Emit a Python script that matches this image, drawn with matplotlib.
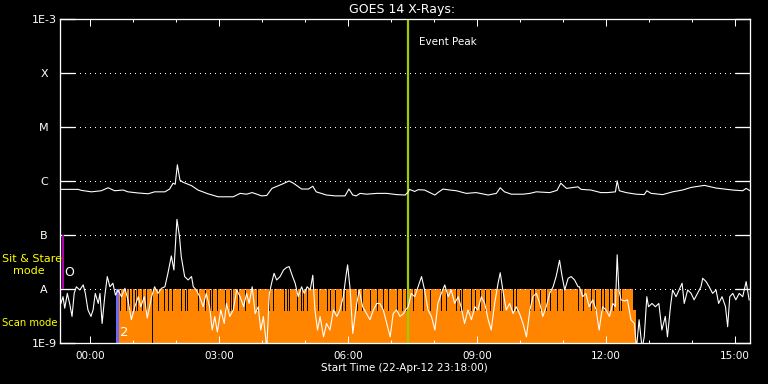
import matplotlib
matplotlib.use("Agg")
import matplotlib.pyplot as plt
from matplotlib.ticker import FixedLocator, NullLocator

# hours after 00:00 on 23-Apr-12, flux in W/m^2
long_hours = [-0.68, -0.28, -0.20, 0.03, 0.26, 0.42, 0.57, 0.77, 0.88, 1.12, 1.35, 1.50,
              1.74, 1.85, 1.93, 1.98, 2.03, 2.09, 2.16, 2.36, 2.51, 2.74, 2.98, 3.33,
              3.49, 3.64, 3.77, 3.99, 4.11, 4.23, 4.46, 4.63, 4.73, 4.92, 5.08, 5.18,
              5.26, 5.50, 5.70, 5.93, 6.02, 6.11, 6.19, 6.28, 6.43, 6.67, 6.90, 7.13,
              7.33, 7.40, 7.43, 7.55, 7.63, 7.78, 8.02, 8.09, 8.21, 8.37, 8.52, 8.75,
              8.98, 9.26, 9.45, 9.54, 9.64, 9.80, 10.07, 10.23, 10.38, 10.69, 10.86, 10.95,
              11.08, 11.35, 11.42, 11.65, 11.88, 12.04, 12.22, 12.26, 12.31, 12.47, 12.70, 12.89,
              12.95, 13.05, 13.32, 13.55, 13.78, 13.98, 14.29, 14.56, 14.95, 15.18, 15.26, 15.35]
long_flux = [7.0e-7, 7.0e-7, 6.7e-7, 6.3e-7, 6.6e-7, 7.5e-7, 6.6e-7, 6.8e-7, 6.3e-7, 6.0e-7, 5.8e-7, 6.3e-7,
             6.3e-7, 7.1e-7, 9.1e-7, 8.7e-7, 2.0e-6, 1.04e-6, 9.5e-7, 8.2e-7, 6.8e-7, 5.8e-7, 5.1e-7, 5.1e-7,
             5.9e-7, 5.7e-7, 6.1e-7, 5.3e-7, 5.4e-7, 7.3e-7, 8.7e-7, 1.0e-6, 9.1e-7, 7.1e-7, 7.1e-7, 8.0e-7,
             6.3e-7, 5.5e-7, 5.3e-7, 5.3e-7, 7.1e-7, 5.5e-7, 5.3e-7, 5.9e-7, 5.7e-7, 5.9e-7, 5.9e-7, 5.6e-7,
             5.5e-7, 6.3e-7, 7.0e-7, 6.4e-7, 6.9e-7, 6.8e-7, 5.5e-7, 6.1e-7, 7.1e-7, 6.8e-7, 6.6e-7, 5.9e-7,
             6.1e-7, 5.5e-7, 5.9e-7, 7.5e-7, 6.3e-7, 5.7e-7, 5.7e-7, 5.9e-7, 6.3e-7, 6.1e-7, 6.7e-7, 9.1e-7,
             7.3e-7, 7.8e-7, 7.0e-7, 6.8e-7, 6.1e-7, 6.1e-7, 6.3e-7, 1.01e-6, 6.6e-7, 6.1e-7, 5.7e-7, 5.6e-7,
             6.6e-7, 5.9e-7, 5.6e-7, 6.3e-7, 6.8e-7, 7.6e-7, 8.3e-7, 7.4e-7, 6.8e-7, 6.6e-7, 7.3e-7, 6.6e-7]

short_hours = [-0.68, -0.63, -0.59, -0.53, -0.47, -0.42, -0.37, -0.32, -0.24, -0.16, -0.11, -0.05,
               0.02, 0.07, 0.12, 0.19, 0.23, 0.28, 0.34, 0.40, 0.46, 0.53, 0.59, 0.65,
               0.73, 0.81, 0.88, 0.96, 1.04, 1.12, 1.18, 1.26, 1.33, 1.43, 1.50, 1.58,
               1.66, 1.74, 1.81, 1.89, 1.95, 2.02, 2.08, 2.12, 2.20, 2.28, 2.36, 2.40,
               2.47, 2.55, 2.63, 2.70, 2.78, 2.84, 2.90, 2.96, 3.04, 3.12, 3.17, 3.25,
               3.33, 3.41, 3.49, 3.57, 3.64, 3.70, 3.77, 3.84, 3.91, 3.97, 4.03, 4.11,
               4.17, 4.23, 4.28, 4.34, 4.42, 4.50, 4.57, 4.63, 4.71, 4.77, 4.84, 4.92,
               4.98, 5.05, 5.12, 5.18, 5.23, 5.29, 5.35, 5.43, 5.50, 5.58, 5.66, 5.74,
               5.81, 5.89, 5.95, 5.99, 6.05, 6.11, 6.19, 6.26, 6.34, 6.43, 6.51, 6.59,
               6.67, 6.74, 6.82, 6.90, 6.98, 7.05, 7.13, 7.21, 7.29, 7.34, 7.40, 7.47,
               7.55, 7.63, 7.71, 7.78, 7.86, 7.94, 8.02, 8.09, 8.17, 8.25, 8.33, 8.40,
               8.48, 8.56, 8.63, 8.71, 8.79, 8.87, 8.95, 9.02, 9.10, 9.18, 9.26, 9.33,
               9.41, 9.49, 9.54, 9.60, 9.68, 9.76, 9.84, 9.91, 9.99, 10.07, 10.15, 10.23,
               10.30, 10.38, 10.46, 10.53, 10.61, 10.69, 10.77, 10.84, 10.92, 10.98, 11.04, 11.12,
               11.19, 11.27, 11.35, 11.38, 11.46, 11.53, 11.61, 11.69, 11.77, 11.84, 11.92, 12.00,
               12.08, 12.16, 12.22, 12.26, 12.30, 12.35, 12.43, 12.50, 12.58, 12.66, 12.71, 12.77,
               12.84, 12.89, 12.95, 12.99, 13.07, 13.15, 13.23, 13.30, 13.38, 13.43, 13.50, 13.55,
               13.63, 13.70, 13.77, 13.82, 13.90, 13.98, 14.05, 14.13, 14.21, 14.25, 14.33, 14.40,
               14.48, 14.56, 14.62, 14.70, 14.78, 14.83, 14.88, 14.95, 15.02, 15.10, 15.18, 15.26,
               15.33]
short_flux = [5.4e-9, 7.2e-9, 4.4e-9, 8.3e-9, 5.1e-9, 3.1e-9, 8.3e-9, 1.1e-8, 9.6e-9, 1.19e-8, 8.3e-9, 4.1e-9,
              3.1e-9, 4.1e-9, 8.3e-9, 5.4e-9, 8.3e-9, 2.3e-9, 7.2e-9, 1.7e-8, 1.1e-8, 1.28e-8, 7.7e-9, 9.6e-9,
              7.2e-9, 1.03e-8, 6.3e-9, 2.7e-9, 4.7e-9, 7.2e-9, 4.7e-9, 7.2e-9, 2.9e-9, 7.2e-9, 1.1e-8, 8.3e-9,
              1.03e-8, 1.1e-8, 1.95e-8, 4.1e-8, 2.25e-8, 1.95e-7, 9.3e-8, 4.0e-8, 1.7e-8, 1.47e-8, 1.7e-8, 1.1e-8,
              9.6e-9, 7.2e-9, 4.7e-9, 8.3e-9, 4.7e-9, 1.74e-9, 3.1e-9, 1.6e-9, 4.1e-9, 2.3e-9, 5.4e-9, 3.1e-9,
              4.1e-9, 9.6e-9, 7.2e-9, 4.7e-9, 8.3e-9, 5.4e-9, 1.1e-8, 3.5e-9, 4.7e-9, 1.74e-9, 3.1e-9, 8e-10,
              8.3e-9, 1.37e-8, 1.95e-8, 1.47e-8, 1.7e-8, 2.25e-8, 2.5e-8, 2.6e-8, 1.7e-8, 1.28e-8, 7.2e-9, 1.1e-8,
              8.3e-9, 1.1e-8, 9.6e-9, 1.8e-8, 4.1e-9, 1.74e-9, 3.1e-9, 1.3e-9, 2.3e-9, 1.74e-9, 4.1e-9, 3.1e-9,
              4.1e-9, 7.2e-9, 1.7e-8, 2.8e-8, 9.6e-9, 1.5e-9, 4.7e-9, 9.6e-9, 4.7e-9, 3.5e-9, 2.7e-9, 4.1e-9,
              5.4e-9, 5.4e-9, 4.1e-9, 2.3e-9, 1.3e-9, 3.5e-9, 4.1e-9, 3.1e-9, 3.5e-9, 4.1e-9, 4.7e-9, 8.3e-9,
              7.2e-9, 1.1e-8, 1.7e-8, 9.6e-9, 4.1e-9, 3.1e-9, 1.74e-9, 5.4e-9, 8.3e-9, 1.19e-8, 7.2e-9, 9.6e-9,
              5.4e-9, 7.2e-9, 4.7e-9, 2.3e-9, 4.1e-9, 2.7e-9, 4.7e-9, 4.1e-9, 7.2e-9, 5.4e-9, 2.7e-9, 1.74e-9,
              5.4e-9, 1.28e-8, 2.0e-8, 9.6e-9, 4.1e-9, 5.4e-9, 3.5e-9, 4.7e-9, 3.5e-9, 2.3e-9, 1.3e-9, 4.1e-9,
              7.2e-9, 8.3e-9, 5.4e-9, 3.1e-9, 4.7e-9, 8.3e-9, 1.1e-8, 1.7e-8, 3.4e-8, 1.7e-8, 9.6e-9, 1.58e-8,
              1.7e-8, 1.47e-8, 1.1e-8, 1.1e-8, 7.2e-9, 8.3e-9, 4.7e-9, 6.3e-9, 4.1e-9, 1.74e-9, 4.7e-9, 4.1e-9,
              3.1e-9, 5.4e-9, 4.7e-9, 4.3e-8, 9.6e-9, 6.3e-9, 6.0e-9, 6.3e-9, 2.7e-9, 2.3e-9, 8e-10, 2.7e-9,
              8e-10, 1.3e-9, 7.2e-9, 4.7e-9, 5.4e-9, 4.7e-9, 5.4e-9, 1.74e-9, 3.1e-9, 1.3e-9, 4.7e-9, 9.6e-9,
              7.2e-9, 9.6e-9, 1.28e-8, 5.4e-9, 9.6e-9, 8.3e-9, 6.3e-9, 8.3e-9, 1.1e-8, 1.58e-8, 1.37e-8, 1.1e-8,
              8.3e-9, 9.6e-9, 5.4e-9, 7.2e-9, 4.7e-9, 2.0e-9, 7.2e-9, 8.3e-9, 6.3e-9, 8.3e-9, 7.2e-9, 1.37e-8,
              6.3e-9]

# instrument mode timeline (hours)
scan_start = 0.67
scan_end_top = 12.63
scan_end_low = 12.70
scan_gaps = [0.70, 0.84, 0.91, 0.98, 1.04, 1.09, 1.21, 1.29, 1.57, 1.72, 1.81, 1.90,
             2.11, 2.20, 2.26, 2.51, 2.67, 2.78, 2.84, 2.96, 3.13, 3.25, 3.31, 3.45,
             3.60, 3.88, 4.17, 4.26, 4.50, 4.57, 4.63, 4.81, 4.90, 4.95, 5.05, 5.31,
             5.50, 5.58, 5.70, 5.85, 5.93, 6.20, 6.32, 6.51, 6.67, 6.82, 6.94, 7.13,
             7.25, 7.34, 7.51, 7.74, 7.90, 8.17, 8.29, 8.52, 8.60, 8.66, 8.87, 8.95,
             9.08, 9.18, 9.30, 9.53, 9.59, 9.84, 9.91, 10.23, 10.32, 10.46, 10.61, 10.69,
             10.86, 11.00, 11.34, 11.47, 11.65, 11.75, 11.88, 11.96, 12.08, 12.17, 12.30, 12.35]
scan_full_gaps = [1.43]
sit_stare_start = -0.63
sit_stare_end = 0.60
event_peak = 7.40

levels = [1e-9, 1e-8, 1e-7, 1e-6, 1e-5, 1e-4, 1e-3]
level_labels = ['1E-9', 'A', 'B', 'C', 'M', 'X', '1E-3']
hour_ticks = [0, 3, 6, 9, 12, 15]
hour_labels = ['00:00', '03:00', '06:00', '09:00', '12:00', '15:00']

px = 0.72  # one pixel in points at dpi 100
ORANGE = '#ff8400'

fig = plt.figure(figsize=(7.68, 3.84), dpi=100, facecolor='black')
ax = fig.add_axes([60 / 768, 41 / 384, 690 / 768, 324 / 384], facecolor='black')
ax.set_yscale('log')
ax.set_xlim(-0.70, 15.35)
ax.set_ylim(1e-9, 1e-3)

# mode bars
ax.fill_between([scan_start, scan_end_low], 1e-9, 4.1e-9, color=ORANGE, lw=0)
ax.fill_between([scan_start, scan_end_top], 4.1e-9, 1e-8, color=ORANGE, lw=0)
ax.vlines(scan_gaps, 4.1e-9, 1e-8, color='black', lw=0.9 * px, antialiased=False)
ax.vlines(scan_full_gaps, 1e-9, 1e-8, color='black', lw=0.9 * px, antialiased=False)
ax.fill_between([sit_stare_end, scan_start], 1e-9, 1e-8, color='#6a6aff', lw=0)
ax.vlines([sit_stare_start], 1e-8, 1e-7, color='#b000b0', lw=2 * px)

# level grid
for lv in levels[1:-1]:
    ax.axhline(lv, color='white', lw=px, ls=(0, (1, 5)), antialiased=False)

ax.axvline(event_peak, color='#a0cc00', lw=2.2 * px)
ax.text(event_peak + 0.25, 10 ** -3.43, 'Event Peak', color='white', fontsize=7.5, va='center')

ax.plot(long_hours, long_flux, color='white', lw=1.1 * px)
ax.plot(short_hours, short_flux, color='white', lw=1.1 * px)

for s in ax.spines.values():
    s.set_color('white')
    s.set_linewidth(1.3 * px)

ax.xaxis.set_major_locator(FixedLocator(hour_ticks))
ax.xaxis.set_minor_locator(FixedLocator(range(0, 16)))
ax.set_xticklabels(hour_labels)
ax.yaxis.set_major_locator(FixedLocator(levels))
ax.yaxis.set_minor_locator(NullLocator())
ax.set_yticklabels(level_labels)
ax.tick_params(axis='x', which='major', direction='in', length=5, width=px, colors='white',
               top=True, labelsize=7.5, pad=6)
ax.tick_params(axis='x', which='minor', direction='in', length=2.5, width=px, colors='white', top=True)
ax.tick_params(axis='y', which='major', direction='in', length=10.8, width=1.3 * px, colors='white',
               right=True, labelsize=8, pad=11.5)
for lab in ax.get_yticklabels():
    lab.set_ha('center')

fig.text(402 / 768, 1 - 9 / 384, 'GOES 14 X-Rays:', color='white', fontsize=9, ha='center', va='center')
fig.text(404 / 768, 1 - 368 / 384, 'Start Time (22-Apr-12 23:18:00)', color='white', fontsize=7.5,
         ha='center', va='center')
fig.text(2 / 768, 1 - 259 / 384, 'Sit & Stare', color='yellow', fontsize=8, ha='left', va='center')
fig.text(13 / 768, 1 - 271 / 384, 'mode', color='yellow', fontsize=8, ha='left', va='center')
fig.text(2 / 768, 1 - 323 / 384, 'Scan mode', color='yellow', fontsize=7.2, ha='left', va='center')
fig.text(69 / 768, 1 - 272 / 384, 'O', color='white', fontsize=9, ha='center', va='center')
fig.text(124 / 768, 1 - 332 / 384, '2', color='white', fontsize=9.5, ha='center', va='center')

fig.savefig('out.png', dpi=100, facecolor='black')
